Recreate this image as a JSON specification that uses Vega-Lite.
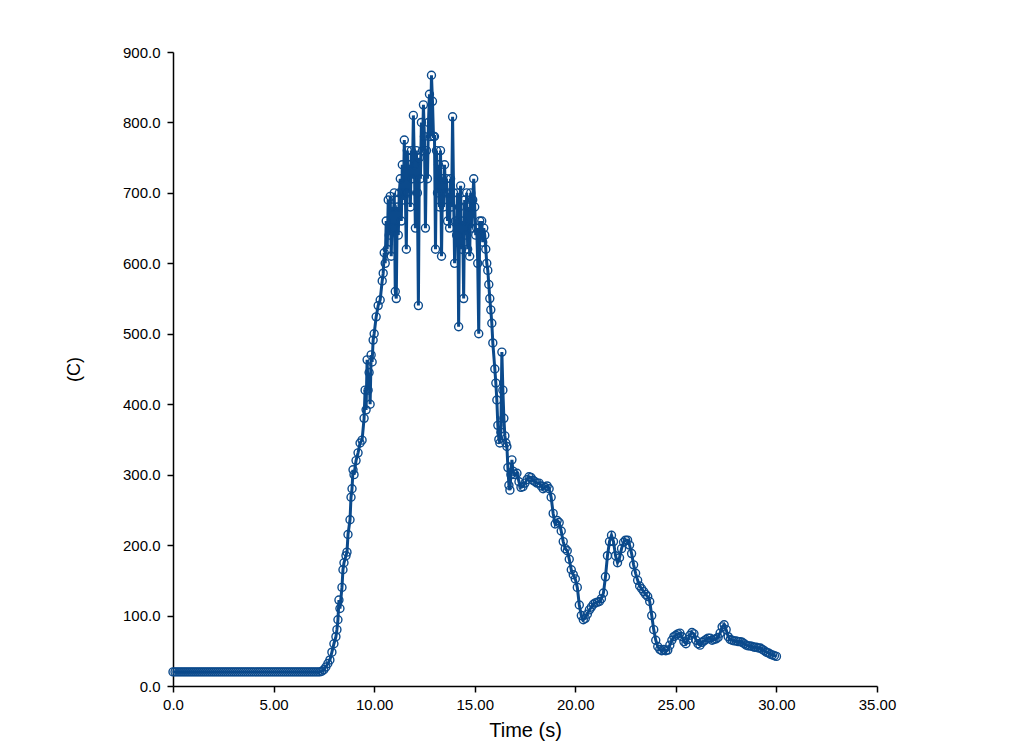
{
"$schema": "https://vega.github.io/schema/vega-lite/v6.json",
"autosize": "none",
"width": 704,
"height": 634,
"padding": {"left": 173, "top": 52, "right": 144, "bottom": 64},
"background": "white",
"config": {"view": {"stroke": null}, "font": "Liberation Sans"},
"data": {"values": [
{"t":0,"c":20},{"t":0.1,"c":20},{"t":0.2,"c":20},{"t":0.3,"c":20},{"t":0.4,"c":20},{"t":0.5,"c":20},{"t":0.6,"c":20},{"t":0.7,"c":20},{"t":0.8,"c":20},{"t":0.9,"c":20},
{"t":1.0,"c":20},{"t":1.1,"c":20},{"t":1.2,"c":20},{"t":1.3,"c":20},{"t":1.4,"c":20},{"t":1.5,"c":20},{"t":1.6,"c":20},{"t":1.7,"c":20},{"t":1.8,"c":20},{"t":1.9,"c":20},
{"t":2.0,"c":20},{"t":2.1,"c":20},{"t":2.2,"c":20},{"t":2.3,"c":20},{"t":2.4,"c":20},{"t":2.5,"c":20},{"t":2.6,"c":20},{"t":2.7,"c":20},{"t":2.8,"c":20},{"t":2.9,"c":20},
{"t":3.0,"c":20},{"t":3.1,"c":20},{"t":3.2,"c":20},{"t":3.3,"c":20},{"t":3.4,"c":20},{"t":3.5,"c":20},{"t":3.6,"c":20},{"t":3.7,"c":20},{"t":3.8,"c":20},{"t":3.9,"c":20},
{"t":4.0,"c":20},{"t":4.1,"c":20},{"t":4.2,"c":20},{"t":4.3,"c":20},{"t":4.4,"c":20},{"t":4.5,"c":20},{"t":4.6,"c":20},{"t":4.7,"c":20},{"t":4.8,"c":20},{"t":4.9,"c":20},
{"t":5.0,"c":20},{"t":5.1,"c":20},{"t":5.2,"c":20},{"t":5.3,"c":20},{"t":5.4,"c":20},{"t":5.5,"c":20},{"t":5.6,"c":20},{"t":5.7,"c":20},{"t":5.8,"c":20},{"t":5.9,"c":20},
{"t":6.0,"c":20},{"t":6.1,"c":20},{"t":6.2,"c":20},{"t":6.3,"c":20},{"t":6.4,"c":20},{"t":6.5,"c":20},{"t":6.6,"c":20},{"t":6.7,"c":20},{"t":6.8,"c":20},{"t":6.9,"c":20},
{"t":7.0,"c":20},{"t":7.1,"c":20},{"t":7.2,"c":20},{"t":7.3,"c":20},{"t":7.4,"c":21},{"t":7.5,"c":23},{"t":7.6,"c":27},{"t":7.7,"c":32},{"t":7.8,"c":37},{"t":7.9,"c":48},
{"t":8.0,"c":60},{"t":8.1,"c":70},{"t":8.15,"c":80},{"t":8.2,"c":94},{"t":8.25,"c":122},{"t":8.3,"c":110},{"t":8.4,"c":140},{"t":8.45,"c":165},{"t":8.5,"c":175},{"t":8.6,"c":185},
{"t":8.65,"c":190},{"t":8.7,"c":215},{"t":8.8,"c":236},{"t":8.85,"c":268},{"t":8.9,"c":280},{"t":8.95,"c":307},{"t":9.0,"c":300},{"t":9.1,"c":320},{"t":9.2,"c":331},{"t":9.3,"c":345},
{"t":9.4,"c":349},{"t":9.5,"c":380},{"t":9.55,"c":420},{"t":9.6,"c":392},{"t":9.65,"c":463},{"t":9.7,"c":420},{"t":9.75,"c":445},{"t":9.8,"c":400},{"t":9.85,"c":470},{"t":9.9,"c":460},
{"t":9.95,"c":491},{"t":10.0,"c":500},{"t":10.1,"c":524},{"t":10.2,"c":540},{"t":10.3,"c":548},{"t":10.4,"c":575},{"t":10.45,"c":586},{"t":10.5,"c":615},
{"t":10.55,"c":600},{"t":10.6,"c":660},{"t":10.65,"c":620},{"t":10.7,"c":690},{"t":10.75,"c":640},{"t":10.8,"c":695},{"t":10.85,"c":610},{"t":10.9,"c":680},{"t":10.95,"c":650},
{"t":11.0,"c":700},{"t":11.05,"c":560},{"t":11.1,"c":550},{"t":11.15,"c":680},{"t":11.2,"c":640},{"t":11.25,"c":700},{"t":11.3,"c":720},{"t":11.35,"c":660},{"t":11.4,"c":740},{"t":11.45,"c":690},
{"t":11.5,"c":775},{"t":11.55,"c":700},{"t":11.6,"c":620},{"t":11.65,"c":760},{"t":11.7,"c":700},{"t":11.75,"c":740},{"t":11.8,"c":680},{"t":11.85,"c":760},{"t":11.9,"c":720},{"t":11.95,"c":810},
{"t":12.0,"c":740},{"t":12.05,"c":650},{"t":12.1,"c":760},{"t":12.15,"c":700},{"t":12.2,"c":540},{"t":12.25,"c":750},{"t":12.3,"c":720},{"t":12.35,"c":800},{"t":12.4,"c":760},{"t":12.45,"c":825},
{"t":12.5,"c":780},{"t":12.55,"c":650},{"t":12.6,"c":760},{"t":12.65,"c":720},{"t":12.7,"c":800},{"t":12.75,"c":840},{"t":12.8,"c":780},{"t":12.85,"c":867},{"t":12.9,"c":830},{"t":12.95,"c":780},
{"t":13.0,"c":780},{"t":13.05,"c":620},{"t":13.1,"c":760},{"t":13.15,"c":700},{"t":13.2,"c":740},{"t":13.25,"c":680},{"t":13.3,"c":760},{"t":13.35,"c":610},{"t":13.4,"c":720},{"t":13.45,"c":680},
{"t":13.5,"c":740},{"t":13.55,"c":700},{"t":13.6,"c":720},{"t":13.65,"c":660},{"t":13.7,"c":700},{"t":13.75,"c":650},{"t":13.8,"c":720},{"t":13.85,"c":680},{"t":13.9,"c":808},{"t":13.95,"c":700},
{"t":14.0,"c":600},{"t":14.05,"c":660},{"t":14.1,"c":640},{"t":14.15,"c":700},{"t":14.2,"c":510},{"t":14.25,"c":680},{"t":14.3,"c":710},{"t":14.35,"c":620},{"t":14.4,"c":660},{"t":14.45,"c":550},
{"t":14.5,"c":690},{"t":14.55,"c":640},{"t":14.6,"c":700},{"t":14.65,"c":620},{"t":14.7,"c":680},{"t":14.75,"c":610},{"t":14.8,"c":700},{"t":14.85,"c":650},{"t":14.9,"c":690},{"t":14.95,"c":720},
{"t":15.0,"c":680},{"t":15.05,"c":640},{"t":15.1,"c":650},{"t":15.15,"c":600},{"t":15.2,"c":500},{"t":15.25,"c":660},{"t":15.3,"c":640},{"t":15.35,"c":660},{"t":15.4,"c":630},{"t":15.45,"c":650},
{"t":15.5,"c":640},{"t":15.55,"c":620},{"t":15.6,"c":600},{"t":15.65,"c":590},{"t":15.7,"c":570},{"t":15.75,"c":550},{"t":15.8,"c":534},{"t":15.85,"c":515},{"t":15.9,"c":487},
{"t":16.0,"c":450},{"t":16.05,"c":430},{"t":16.1,"c":406},{"t":16.15,"c":370},{"t":16.2,"c":350},{"t":16.25,"c":345},{"t":16.3,"c":360},{"t":16.35,"c":474},{"t":16.4,"c":420},{"t":16.45,"c":380},
{"t":16.5,"c":355},{"t":16.55,"c":345},{"t":16.6,"c":340},{"t":16.65,"c":310},{"t":16.7,"c":285},{"t":16.75,"c":278},{"t":16.8,"c":300},{"t":16.85,"c":321},{"t":16.9,"c":305},
{"t":17.0,"c":300},{"t":17.1,"c":302},{"t":17.2,"c":290},{"t":17.3,"c":282},{"t":17.4,"c":283},{"t":17.5,"c":288},{"t":17.6,"c":293},{"t":17.7,"c":297},{"t":17.8,"c":296},{"t":17.9,"c":292},
{"t":18.0,"c":290},{"t":18.1,"c":288},{"t":18.2,"c":288},{"t":18.3,"c":284},{"t":18.4,"c":280},{"t":18.5,"c":282},{"t":18.6,"c":284},{"t":18.7,"c":280},{"t":18.8,"c":268},{"t":18.9,"c":245},
{"t":19.0,"c":230},{"t":19.1,"c":235},{"t":19.2,"c":232},{"t":19.3,"c":220},{"t":19.4,"c":205},{"t":19.5,"c":195},{"t":19.6,"c":192},{"t":19.7,"c":180},{"t":19.8,"c":165},{"t":19.9,"c":158},
{"t":20.0,"c":152},{"t":20.1,"c":140},{"t":20.2,"c":115},{"t":20.3,"c":100},{"t":20.4,"c":94},{"t":20.5,"c":96},{"t":20.6,"c":102},{"t":20.7,"c":108},{"t":20.8,"c":112},{"t":20.9,"c":116},
{"t":21.0,"c":118},{"t":21.1,"c":119},{"t":21.2,"c":120},{"t":21.3,"c":124},{"t":21.4,"c":132},{"t":21.5,"c":155},{"t":21.6,"c":185},{"t":21.7,"c":205},{"t":21.8,"c":214},{"t":21.9,"c":205},
{"t":22.0,"c":185},{"t":22.1,"c":175},{"t":22.2,"c":182},{"t":22.3,"c":195},{"t":22.4,"c":204},{"t":22.5,"c":207},{"t":22.6,"c":207},{"t":22.7,"c":200},{"t":22.8,"c":188},{"t":22.9,"c":172},
{"t":23.0,"c":160},{"t":23.1,"c":150},{"t":23.2,"c":142},{"t":23.3,"c":138},{"t":23.4,"c":134},{"t":23.5,"c":130},{"t":23.6,"c":127},{"t":23.7,"c":120},{"t":23.8,"c":100},{"t":23.9,"c":80},
{"t":24.0,"c":65},{"t":24.1,"c":56},{"t":24.2,"c":52},{"t":24.3,"c":50},{"t":24.4,"c":52},{"t":24.5,"c":50},{"t":24.6,"c":51},{"t":24.7,"c":58},{"t":24.8,"c":65},{"t":24.9,"c":70},
{"t":25.0,"c":72},{"t":25.1,"c":74},{"t":25.2,"c":75},{"t":25.3,"c":70},{"t":25.4,"c":63},{"t":25.5,"c":60},{"t":25.6,"c":66},{"t":25.7,"c":72},{"t":25.8,"c":76},{"t":25.9,"c":74},
{"t":26.0,"c":65},{"t":26.1,"c":60},{"t":26.2,"c":58},{"t":26.3,"c":62},{"t":26.4,"c":64},{"t":26.5,"c":66},{"t":26.6,"c":68},{"t":26.7,"c":68},{"t":26.8,"c":65},{"t":26.9,"c":66},
{"t":27.0,"c":67},{"t":27.1,"c":69},{"t":27.2,"c":75},{"t":27.3,"c":84},{"t":27.4,"c":87},{"t":27.5,"c":80},{"t":27.6,"c":70},{"t":27.7,"c":66},{"t":27.8,"c":65},{"t":27.9,"c":64},
{"t":28.0,"c":64},{"t":28.1,"c":63},{"t":28.2,"c":63},{"t":28.3,"c":62},{"t":28.4,"c":60},{"t":28.5,"c":58},{"t":28.6,"c":57},{"t":28.7,"c":57},{"t":28.8,"c":56},{"t":28.9,"c":55},
{"t":29.0,"c":55},{"t":29.1,"c":54},{"t":29.2,"c":54},{"t":29.3,"c":52},{"t":29.4,"c":50},{"t":29.5,"c":48},{"t":29.6,"c":47},{"t":29.7,"c":45},{"t":29.8,"c":44},{"t":29.9,"c":43},
{"t":30.0,"c":42}
]},
"encoding": {
  "x": {"field": "t", "type": "quantitative", "title": "Time (s)",
        "scale": {"domain": [0, 35], "nice": false, "zero": true},
        "axis": {"values": [0,5,10,15,20,25,30,35], "labelExpr": "datum.value == 0 ? '0.0' : format(datum.value, '.2f')",
                 "grid": false, "domainColor": "black", "domainWidth": 1.5, "tickColor": "black", "tickWidth": 1.5, "tickSize": 6,
                 "labelFlush": false, "labelOverlap": false,
                 "labelColor": "black", "labelFontSize": 15, "labelPadding": 5, "labelFont": "Liberation Sans",
                 "titleFontSize": 20, "titleFontWeight": "normal", "titleColor": "black", "titlePadding": 8, "titleFont": "Liberation Sans"}},
  "y": {"field": "c", "type": "quantitative", "title": "(C)",
        "scale": {"domain": [0, 900], "nice": false},
        "axis": {"values": [0,100,200,300,400,500,600,700,800,900], "format": ".1f",
                 "grid": false, "domainColor": "black", "domainWidth": 1.5, "tickColor": "black", "tickWidth": 1.5, "tickSize": 6,
                 "labelFlush": false, "labelOverlap": false,
                 "labelColor": "black", "labelFontSize": 15, "labelPadding": 7, "labelFont": "Liberation Sans",
                 "titleFontSize": 18, "titleFontWeight": "normal", "titleColor": "black", "titlePadding": 39, "titleFont": "Liberation Sans"}}
},
"layer": [
  {"mark": {"type": "line", "color": "#0b4a8c", "strokeWidth": 3}},
  {"mark": {"type": "point", "filled": false, "color": "#0b4a8c", "size": 64, "strokeWidth": 1.4, "opacity": 1}}
]
}
